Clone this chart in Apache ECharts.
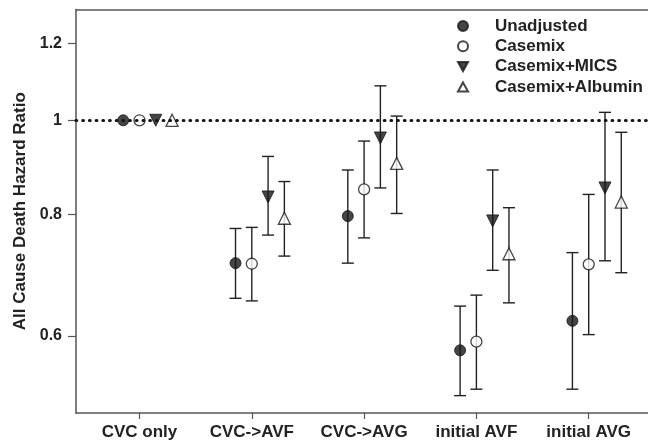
<!DOCTYPE html>
<html>
<head>
<meta charset="utf-8">
<script src="https://cdn.jsdelivr.net/npm/echarts@6/dist/echarts.min.js"></script>
<style>html,body{margin:0;padding:0;background:#fff}#c{width:648px;height:444px}</style>
</head>
<body>
<div id="c"></div>
<script>
var categories = ['CVC only', 'CVC->AVF', 'CVC->AVG', 'initial AVF', 'initial AVG'];
var yTicks = [0.6, 0.8, 1, 1.2];
var refValue = 1;
var seriesNames = ['Unadjusted', 'Casemix', 'Casemix+MICS', 'Casemix+Albumin'];
var unadjusted   = [1.0, 0.713, 0.797, 0.580, 0.622];
var unadjLow     = [null, 0.656, 0.713, 0.521, 0.529];
var unadjHigh    = [null, 0.774, 0.889, 0.644, 0.731];
var casemix      = [1.0, 0.712, 0.849, 0.592, 0.711];
var casemixLow   = [null, 0.652, 0.757, 0.529, 0.602];
var casemixHigh  = [null, 0.776, 0.952, 0.661, 0.839];
var mics         = [1.0, 0.834, 0.959, 0.788, 0.852];
var micsLow      = [null, 0.762, 0.852, 0.701, 0.717];
var micsHigh     = [null, 0.918, 1.085, 0.889, 1.019];
var albumin      = [1.0, 0.793, 0.903, 0.729, 0.824];
var albuminLow   = [null, 0.725, 0.802, 0.649, 0.697];
var albuminHigh  = [null, 0.865, 1.010, 0.813, 0.972];

var values = [unadjusted, casemix, mics, albumin];
var lows = [unadjLow, casemixLow, micsLow, albuminLow];
var highs = [unadjHigh, casemixHigh, micsHigh, albuminHigh];
var offsets = [-1, 0, 1, 2];
var step = 0.145;
var ln = Math.log;
var INK = '#161616';

var symbolStyles = [
  {symbol: 'circle', size: 11, rotate: 0, icon: 'circle', itemStyle: {color: INK, borderColor: INK, borderWidth: 1}},
  {symbol: 'circle', size: 11, rotate: 0, icon: 'circle', itemStyle: {color: '#fff', borderColor: INK, borderWidth: 1.3}},
  {symbol: 'triangle', size: 12, rotate: 180, icon: 'path://M0,0L10,0L5,9Z', itemStyle: {color: INK, borderColor: INK, borderWidth: 1}},
  {symbol: 'triangle', size: 12, rotate: 0, icon: 'path://M5,0L10,9L0,9Z', itemStyle: {color: '#fff', borderColor: INK, borderWidth: 1.3}}
];

var barData = [];
values.forEach(function (arr, s) {
  arr.forEach(function (v, i) {
    if (lows[s][i] != null) {
      barData.push([i + 1 + offsets[s] * step, ln(lows[s][i]), ln(highs[s][i])]);
    }
  });
});

var series = [{
  type: 'custom',
  silent: true,
  z: 1,
  data: barData,
  renderItem: function (params, api) {
    var x = api.value(0);
    var lo = api.coord([x, api.value(1)]);
    var hi = api.coord([x, api.value(2)]);
    var hw = 6;
    var st = {stroke: '#222', lineWidth: 1.4};
    return {type: 'group', children: [
      {type: 'line', shape: {x1: lo[0], y1: lo[1], x2: hi[0], y2: hi[1]}, style: st},
      {type: 'line', shape: {x1: lo[0] - hw, y1: lo[1], x2: lo[0] + hw, y2: lo[1]}, style: st},
      {type: 'line', shape: {x1: hi[0] - hw, y1: hi[1], x2: hi[0] + hw, y2: hi[1]}, style: st}
    ]};
  },
  markLine: {
    silent: true,
    symbol: 'none',
    label: {show: false},
    lineStyle: {type: [0.8, 5.9], cap: 'round', width: 3, color: INK},
    data: [{yAxis: ln(refValue)}]
  }
}];

values.forEach(function (arr, s) {
  var sty = symbolStyles[s];
  series.push({
    name: seriesNames[s],
    type: 'scatter',
    z: 3,
    symbol: sty.symbol,
    symbolSize: sty.size,
    symbolRotate: sty.rotate,
    itemStyle: sty.itemStyle,
    data: arr.map(function (v, i) { return [i + 1 + offsets[s] * step, ln(v)]; })
  });
});

var tickIdx = categories.map(function (c, i) { return i + 1; });
var font = 'Liberation Sans, Arial, sans-serif';
var axisLineStyle = {color: '#555', width: 1.5};

var option = {
  animation: false,
  backgroundColor: '#fff',
  grid: {left: 76, top: 9.5, right: 0, bottom: 31},
  legend: {
    orient: 'vertical',
    left: 457,
    top: 17,
    padding: 0,
    itemWidth: 10,
    itemHeight: 10,
    itemGap: 2.3,
    data: seriesNames.map(function (n, s) { return {name: n, icon: symbolStyles[s].icon}; }),
    textStyle: {fontFamily: font, fontWeight: 'bold', fontSize: 17, color: '#222', padding: [0, 0, 0, 22], lineHeight: 18}
  },
  xAxis: [{
    type: 'value',
    min: 0.4346,
    max: 5.528,
    splitLine: {show: false},
    axisLine: {onZero: false, lineStyle: axisLineStyle},
    axisTick: {show: true, length: 6, lineStyle: {color: '#555', width: 1.2}, customValues: tickIdx},
    axisLabel: {
      customValues: tickIdx,
      margin: 11,
      fontFamily: font, fontWeight: 'bold', fontSize: 17, color: '#222',
      formatter: function (v) { return categories[Math.round(v) - 1] || ''; }
    }
  }, {
    type: 'value',
    position: 'top',
    min: 0.4346,
    max: 5.528,
    splitLine: {show: false},
    axisLine: {show: true, onZero: false, lineStyle: axisLineStyle},
    axisTick: {show: false},
    axisLabel: {show: false}
  }],
  yAxis: {
    type: 'value',
    min: ln(0.5),
    max: ln(1.3),
    name: 'All Cause Death Hazard Ratio',
    nameLocation: 'middle',
    nameGap: 44,
    nameTextStyle: {fontFamily: font, fontWeight: 'bold', fontSize: 17, color: '#222'},
    splitLine: {show: false},
    axisLine: {onZero: false, lineStyle: axisLineStyle},
    axisTick: {show: true, length: 8, lineStyle: {color: '#555', width: 1.2}, customValues: yTicks.map(ln)},
    axisLabel: {
      customValues: yTicks.map(ln),
      margin: 14,
      fontFamily: font, fontWeight: 'bold', fontSize: 16, color: '#222',
      formatter: function (v) { return String(Math.round(Math.exp(v) * 10) / 10); }
    }
  },
  series: series
};

var chart = echarts.init(document.getElementById('c'));
chart.setOption(option);
</script>
</body>
</html>
